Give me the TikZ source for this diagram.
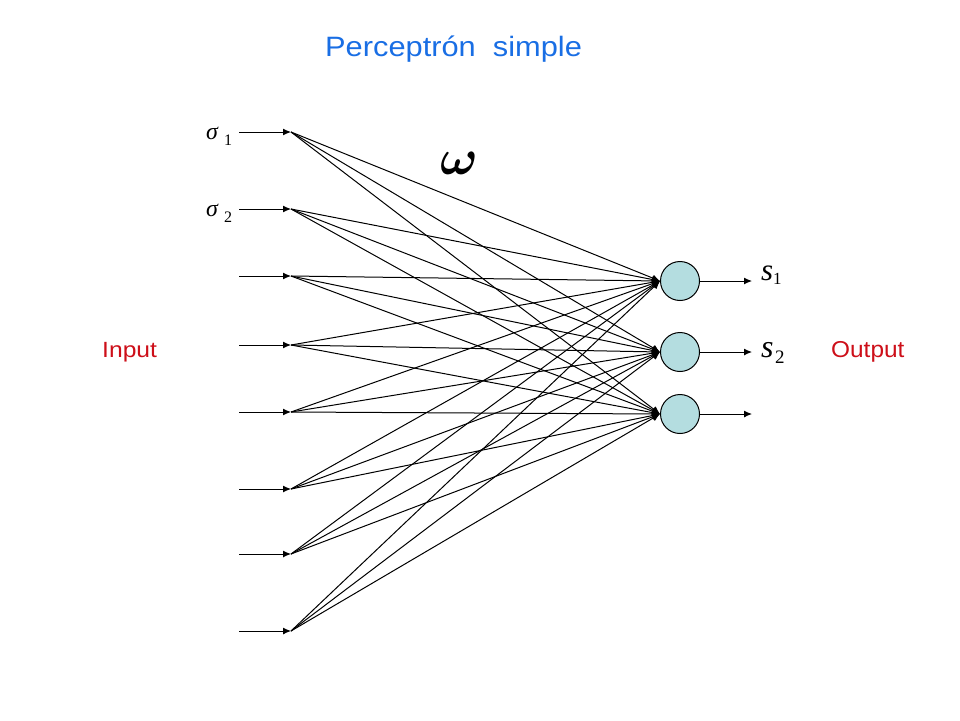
\documentclass[tikz,border=0pt]{standalone}
\usepackage{fontspec}
\setmainfont{Liberation Sans}
\newfontfamily\tnr{Liberation Serif}
\usetikzlibrary{arrows.meta}
\definecolor{titleblue}{RGB}{25,110,228}
\definecolor{labred}{RGB}{205,15,25}
\definecolor{cellfill}{RGB}{180,221,224}
\begin{document}
\begin{tikzpicture}[x=1pt,y=-1pt,
  neuron/.style={circle,draw=black,line width=1pt,fill=cellfill,minimum size=39pt,inner sep=0pt},
  conn/.style={line width=1pt,-{Latex[length=8pt,width=7pt]}},
  txt/.style={inner sep=0pt,anchor=base west}]
\useasboundingbox (0,0) rectangle (960,720);
% title
\node[txt,text=titleblue] (title) at (325,56) {\scalebox{1.1}[1]{\fontsize{28}{30}\selectfont Perceptrón\ \ simple}};
% input start and end points
\foreach \i/\y in {1/132,2/209,3/276,4/345,5/412,6/489,7/554,8/631}{
  \coordinate (s\i) at (239,\y);
  \coordinate (in\i) at (291,\y);
}
% neurons
\node[neuron] (o1) at (680,281) {};
\node[neuron] (o2) at (680,352) {};
\node[neuron] (o3) at (680,414) {};
\coordinate (e1) at (752,281);
\coordinate (e2) at (752,352);
\coordinate (e3) at (752,414);
% input arrows
\foreach \i in {1,...,8}{ \draw[conn] (s\i) -- (in\i); }
% connections
\foreach \i in {1,...,8}{
  \foreach \j in {1,2,3}{ \draw[conn] (in\i) -- (o\j.west); }
}
% output arrows
\foreach \j in {1,2,3}{ \draw[conn] (o\j) -- (e\j); }
% labels
\node[txt] (sig1) at (206,139) {\tnr\fontsize{24}{26}\selectfont\itshape σ};
\node[txt] (sub1) at (224,145) {\tnr\fontsize{16}{18}\selectfont 1};
\node[txt] (sig2) at (206,216) {\tnr\fontsize{24}{26}\selectfont\itshape σ};
\node[txt] (sub2) at (224,222) {\tnr\fontsize{16}{18}\selectfont 2};
\node[txt] (omega) at (440,174) {\scalebox{5}{\boldmath$\omega$}};
\node[txt] (out1) at (761,280) {\tnr\fontsize{31}{33}\selectfont\itshape s};
\node[txt] (osub1) at (773,284) {\tnr\fontsize{17}{19}\selectfont 1};
\node[txt] (out2) at (761,357) {\tnr\fontsize{32}{34}\selectfont\itshape s};
\node[txt] (osub2) at (775,363) {\tnr\fontsize{19}{21}\selectfont 2};
\node[txt,text=labred] (input) at (102,357) {\scalebox{1.12}[1]{\fontsize{22}{24}\selectfont Input}};
\node[txt,text=labred] (output) at (831,357) {\scalebox{1.06}[1]{\fontsize{23}{25}\selectfont Output}};
\end{tikzpicture}
\end{document}
